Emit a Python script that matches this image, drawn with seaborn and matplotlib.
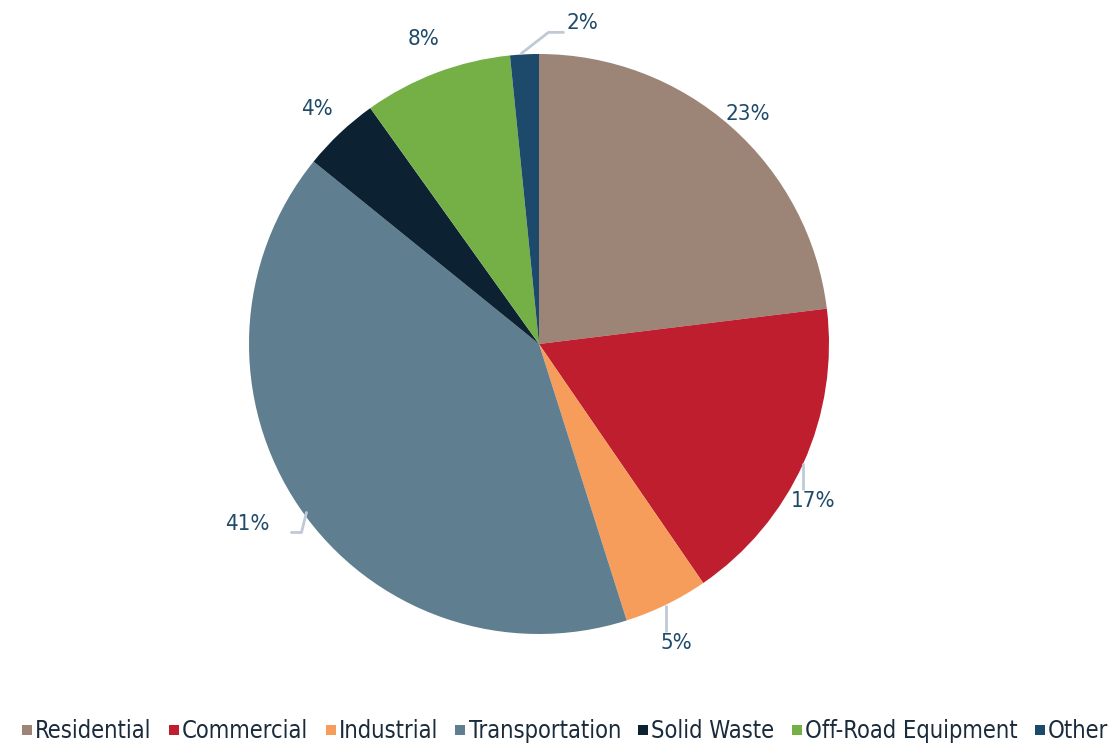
import matplotlib
matplotlib.use("Agg")
import matplotlib.pyplot as plt
from matplotlib.lines import Line2D
from matplotlib import font_manager as fm
import seaborn as sns
import numpy as np

categories = ["Residential", "Commercial", "Industrial", "Transportation",
              "Solid Waste", "Off-Road Equipment", "Other"]
values = [23.1, 17.4, 4.7, 40.8, 4.3, 8.3, 1.6]
colors = ["#9C8576", "#BE1E2D", "#F79D5C", "#5F7E8F", "#0C2233", "#74B046", "#1D4A6B"]

sns.set_theme(style="white")
plt.rcParams['font.family'] = ['DejaVu Sans']
plt.rcParams['font.stretch'] = 'condensed'

W, H = 1114, 744
fig = plt.figure(figsize=(W / 100, H / 100), dpi=100)
ax = fig.add_axes([0, 0, 1, 1])
cx, cy, R = 539, 344, 290

wedges, _ = ax.pie(values, colors=colors, startangle=90, counterclock=False,
                   radius=1.0, center=(0, 0), frame=True,
                   wedgeprops=dict(linewidth=0))
ax.set_xlim(-cx / R, (W - cx) / R)
ax.set_ylim(-(H - cy) / R, cy / R)
ax.set_aspect("auto")
ax.axis("off")

label_color = "#1F4A6A"
line_color = "#BFCAD6"
total = sum(values)
px = 1.0 / R
fs = 16
for i, (w, v) in enumerate(zip(wedges, values)):
    ang = np.deg2rad((w.theta1 + w.theta2) / 2)
    ex, ey = np.cos(ang), np.sin(ang)
    txt = f"{round(v / total * 100):.0f}%"
    kw = dict(fontsize=fs, color=label_color, ha="center", va="center", fontstretch="condensed")
    name = categories[i]
    if name in ("Commercial", "Industrial"):
        ax.plot([ex, ex], [ey, ey - 27 * px], color=line_color, lw=2, solid_capstyle="butt")
        ax.text(ex + 10 * px, ey - 38 * px, txt, **kw)
    elif name == "Transportation":
        pts = [(ex + 7 * px, ey - 5 * px), (ex + 2 * px, ey - 25 * px), (ex - 8 * px, ey - 25 * px)]
        ax.plot(*zip(*pts), color=line_color, lw=2)
        kw.update(ha="right")
        ax.text(ex - 30 * px, ey - 17 * px, txt, **kw)
    elif name == "Other":
        pts = [(ex - 3 * px, ey + 1 * px), (ex + 24 * px, ey + 22 * px), (ex + 39 * px, ey + 22 * px)]
        ax.plot(*zip(*pts), color=line_color, lw=2)
        kw.update(ha="left")
        ax.text(ex + 42 * px, ey + 31 * px, txt, **kw)
    else:
        rr = {"Residential": 1.085, "Solid Waste": 1.115, "Off-Road Equipment": 1.125}[name]
        dy = {"Residential": -6, "Solid Waste": 0, "Off-Road Equipment": 0}[name]
        ax.text(ex * rr, ey * rr + dy * px, txt, **kw)

handles = [Line2D([0], [0], marker="s", linestyle="none", markersize=7.5,
                  markerfacecolor=c, markeredgewidth=0) for c in colors]
fig.legend(handles, categories, loc="center", bbox_to_anchor=(565 / W, 1 - 731 / 744),
           ncol=7, frameon=False, prop=fm.FontProperties(family="DejaVu Sans", stretch="condensed", size=17),
           handlelength=0.45, handletextpad=0.12,
           columnspacing=0.72, labelcolor="#1A2B3B", borderpad=0, borderaxespad=0)

fig.savefig("out.png", dpi=100)
